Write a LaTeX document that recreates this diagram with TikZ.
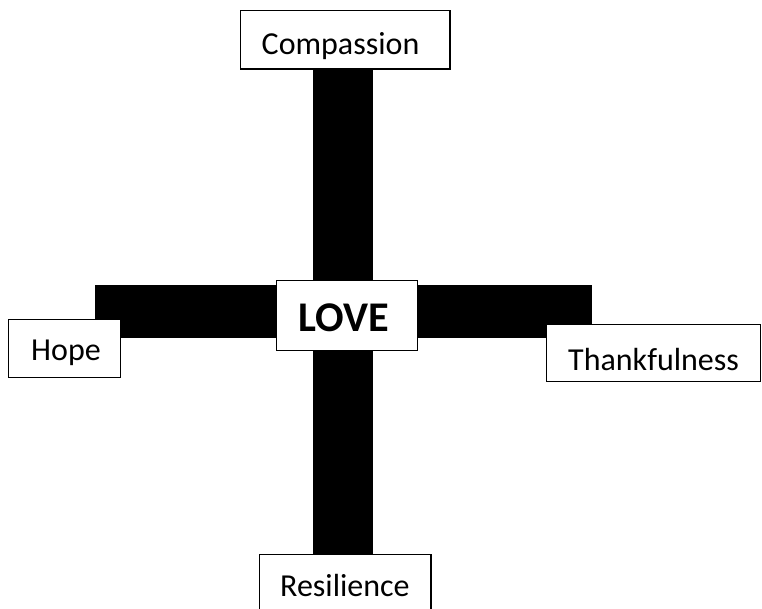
\documentclass[tikz,border=0pt]{standalone}
\usepackage{fontspec}
\setmainfont{Carlito}
\begin{document}
\begin{tikzpicture}[x=1pt,y=-1pt,
  bar/.style={fill=black,draw=none},
  boxst/.style={draw=black,fill=white,line width=1.5pt},
  lbl/.style={anchor=base west,inner sep=0pt,font=\fontsize{32}{38}\selectfont},
  bigl/.style={anchor=base west,inner sep=0pt,font=\fontsize{42.3}{50}\selectfont\bfseries}]
\useasboundingbox (0,0) rectangle (762,609);
% bars
\fill[bar] (313.3,65) rectangle (373.3,554.5);
\fill[bar] (95,285) rectangle (591.7,338.3);
% boxes
\filldraw[boxst] (240.7,10.7) rectangle (450,69);
\filldraw[boxst] (8.3,319.3) rectangle (120.7,377.3);
\filldraw[boxst] (546.7,324.5) rectangle (760.5,381.7);
\filldraw[boxst] (276.7,280.7) rectangle (417.3,350.7);
\filldraw[boxst] (259.3,620) -- (259.3,554.3) -- (431,554.3) -- (431,620);
% texts
\node[lbl] (compassion) at (261.5,55) {Compassion};
\node[lbl] (hope) at (31,360) {Hope};
\node[lbl] (thank) at (568,370) {Thankfulness};
\node[lbl] (resil) at (280,596) {Resilience};
\node[bigl] (love) at (298.5,331.5) {LOVE};
\end{tikzpicture}
\end{document}
